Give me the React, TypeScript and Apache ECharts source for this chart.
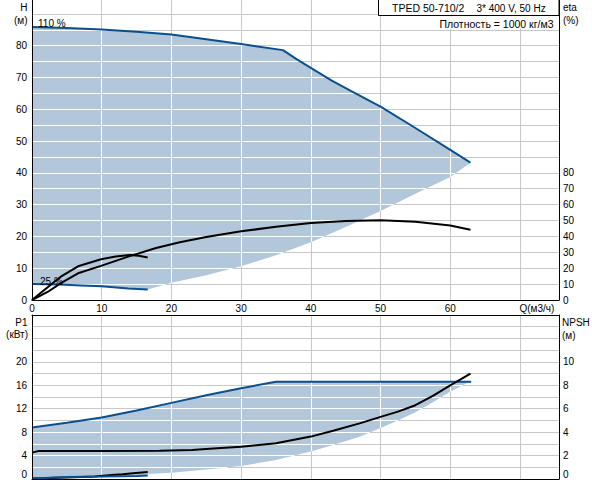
import React, { useEffect, useRef } from 'react';
import * as echarts from 'echarts';

// top chart: Q (м3/ч) against H (м) and eta (%)
const head110 = [[0, 85.9], [5, 85.6], [10, 85.1], [15, 84.4], [20, 83.5], [25, 82.0], [30, 80.5], [36, 78.6], [38, 75.7], [40, 73.0], [43, 69.0], [46, 65.5], [50, 60.8], [55, 54.1], [60, 47.2], [62.9, 43.2]];
const head25 = [[0, 5.0], [4, 4.9], [7, 4.6], [10, 4.3], [13.8, 3.6], [16.6, 3.3]];
const headMin = [[16.6, 3.3], [20, 5.4], [25, 7.8], [30, 10.6], [35, 14.1], [40, 18.2], [45, 23.0], [50, 28.0], [55, 33.4], [60, 38.7], [62.9, 43.2]];
const eta25 = [[0, 0], [1, 3.6], [2.3, 8.2], [4.2, 14.9], [6.6, 21.2], [9.9, 25.6], [12, 27.3], [14, 28.3], [15.3, 27.8], [16.6, 26.7]];
const etaFull = [[0, 0], [2.3, 5.2], [4.2, 10.8], [6.6, 16.8], [9.9, 21.5], [13.8, 27.3], [17.8, 32.7], [21.2, 36.3], [25, 39.6], [30, 43.2], [35, 46.1], [40, 48.4], [45, 49.7], [50, 50.1], [55, 49.2], [60, 46.9], [62.9, 44.2]];

// bottom chart: Q against P1 (кВт) and NPSH (м)
const p1_110 = [[0, 8.8], [5, 9.6], [10, 10.5], [15, 11.7], [20, 13.0], [25, 14.3], [30, 15.5], [35, 16.6], [63, 16.6]];
const p1_25 = [[0, 0.1], [5, 0.35], [10, 0.42], [15, 0.52], [16.6, 0.58]];
const p1Min = [[16.6, 0.58], [16.6, 0.85], [20, 1.05], [22, 1.3], [26.9, 1.83], [30, 2.2], [35, 3.24], [40, 4.7], [43.2, 5.8], [47, 7.2], [50, 8.7], [52.5, 10.0], [55, 11.4], [57.5, 13.1], [60, 14.9], [62.3, 16.3], [63, 16.6]];
const npshFull = [[0, 2.25], [1, 2.4], [10, 2.4], [18.3, 2.42], [23, 2.47], [26, 2.6], [30, 2.76], [35, 3.05], [40, 3.62], [43.2, 4.12], [47, 4.75], [50, 5.3], [52.5, 5.75], [55, 6.3], [57.5, 7.1], [60, 8.0], [62.9, 9.0]];
const npsh25 = [[0, 0.05], [5, 0.12], [9, 0.22], [11.4, 0.34], [13, 0.4], [14.5, 0.49], [16.6, 0.6]];

// grid line values (white where they cross the shaded range)
const qGrid = [10, 20, 30, 40, 50, 60, 70];
const hGrid = [5, 10, 15, 20, 25, 30, 35, 40, 45, 50, 55, 60, 65, 70, 75, 80, 85, 90];
const pGrid = [2, 4, 6, 8, 10, 12, 14, 16, 18, 20, 22, 24, 26];

const FONT = 'Liberation Sans, Arial, sans-serif';
const BLUE = '#0b4f8c';
const FILL = '#b3c7db';
const GREY = '#c8c8c8';

const snap = (p: number) => {
    const d = Math.round(p * 2);
    return d % 2 !== 0 ? d / 2 : (d + 1) / 2;
};

function crossings(pts: number[][], k: number, v: number) {
    const o = k === 0 ? 1 : 0;
    const out: number[] = [];
    for (let i = 0; i < pts.length; i++) {
        const a = pts[i];
        const b = pts[(i + 1) % pts.length];
        if ((a[k] <= v && b[k] > v) || (b[k] <= v && a[k] > v)) {
            const t = (v - a[k]) / (b[k] - a[k]);
            out.push(a[o] + t * (b[o] - a[o]));
        }
    }
    return out.sort((m, n) => m - n);
}

function envelope(poly: number[][], hVals: number[], vVals: number[]) {
    return (_params: any, api: any) => {
        const pts = poly.map((p) => api.coord(p));
        const children: any[] = [{ type: 'polygon', shape: { points: pts }, style: { fill: FILL } }];
        const white = { stroke: '#fff', lineWidth: 1 };
        hVals.forEach((h) => {
            const y = snap(api.coord([0, h])[1]);
            const xs = crossings(pts, 1, y);
            for (let i = 0; i + 1 < xs.length; i += 2) {
                children.push({ type: 'line', shape: { x1: xs[i], y1: y, x2: xs[i + 1], y2: y }, style: white });
            }
        });
        vVals.forEach((q) => {
            const x = snap(api.coord([q, 0])[0]);
            const ys = crossings(pts, 0, x);
            for (let i = 0; i + 1 < ys.length; i += 2) {
                children.push({ type: 'line', shape: { x1: x, y1: ys[i], x2: x, y2: ys[i + 1] }, style: white });
            }
        });
        return { type: 'group', children };
    };
}

const line = (data: number[][], xi: number, yi: number, color: string) => ({
    type: 'line',
    xAxisIndex: xi,
    yAxisIndex: yi,
    data,
    z: 3,
    showSymbol: false,
    silent: true,
    lineStyle: { color, width: 2 },
});

const label = (formatter: (v: number) => string, margin: number) => ({
    margin,
    fontSize: 10,
    fontFamily: FONT,
    color: '#000',
    formatter,
});

const black = { show: true, onZero: false, lineStyle: { color: '#000', width: 1 } };

const text = (t: string, x: number, y: number, align: string, size = 10) => ({
    type: 'text',
    x,
    y,
    z: 100,
    style: { text: t, fill: '#000', font: `${size}px ${FONT}`, align, textAlign: align, verticalAlign: 'middle', textVerticalAlign: 'middle' },
});

const App: React.FC = () => {
    const chartRef = useRef<HTMLDivElement>(null);

    useEffect(() => {
        if (!chartRef.current) return;
        const myChart = echarts.init(chartRef.current, null, { renderer: 'svg' });

        const topPoly = [...head110, ...headMin.slice().reverse(), ...head25.slice().reverse()];
        const botPoly = [...p1_110, ...p1Min.slice().reverse(), ...p1_25.slice().reverse()];
        const qLabel = (v: number) => (v % 10 === 0 && v <= 60 ? String(v) : '');

        const option = {
            animation: false,
            grid: [
                { left: 32, top: -2, width: 527, height: 302, containLabel: false, outerBoundsMode: 'none' },
                { left: 32, top: 315, width: 527, height: 164, containLabel: false, outerBoundsMode: 'none' },
            ],
            xAxis: [
                {
                    gridIndex: 0, type: 'value', min: 0, max: 75.6, interval: 10,
                    axisLine: black, axisTick: { show: false },
                    axisLabel: label(qLabel, 3),
                    splitLine: { show: true, lineStyle: { color: GREY } },
                },
                {
                    gridIndex: 1, type: 'value', position: 'bottom', min: 0, max: 75.6, interval: 10, z: 5,
                    axisLine: black, axisTick: { show: false }, axisLabel: { show: false }, splitLine: { show: false },
                },
                {
                    gridIndex: 1, type: 'value', position: 'top', min: 0, max: 75.6, interval: 10,
                    axisLine: black, axisTick: { show: false }, axisLabel: { show: false },
                    splitLine: { show: true, lineStyle: { color: GREY } },
                },
            ],
            yAxis: [
                {
                    gridIndex: 0, type: 'value', position: 'left', min: 0, max: 95, interval: 10, z: 5,
                    axisLine: black, axisTick: { show: false },
                    axisLabel: label((v) => (v % 10 === 0 && v <= 80 ? String(v) : ''), 5),
                    splitLine: { show: false },
                },
                {
                    gridIndex: 0, type: 'value', position: 'right', min: 0, max: 190, interval: 10,
                    axisLine: black, axisTick: { show: false },
                    axisLabel: label((v) => (v % 10 === 0 && v <= 80 ? String(v) : ''), 4),
                    splitLine: { show: true, lineStyle: { color: GREY } },
                },
                {
                    gridIndex: 1, type: 'value', position: 'left', min: 0, max: 28, interval: 4, z: 5,
                    axisLine: black, axisTick: { show: false },
                    axisLabel: { ...label((v) => (v % 4 === 0 && v <= 20 ? String(v) : ''), 5), verticalAlignMinLabel: 'bottom' },
                    splitLine: { show: false },
                },
                {
                    gridIndex: 1, type: 'value', position: 'right', min: 0, max: 14, interval: 1,
                    axisLine: black, axisTick: { show: false },
                    axisLabel: { ...label((v) => (v % 2 === 0 && v <= 10 ? String(v) : ''), 4), verticalAlignMinLabel: 'bottom' },
                    splitLine: { show: true, lineStyle: { color: GREY } },
                },
            ],
            graphic: [
                { type: 'rect', z: 99, shape: { x: 378.5, y: -1.5, width: 180.5, height: 17 }, style: { fill: '#fff', stroke: '#000', lineWidth: 1 } },
                text('TPED 50-710/2', 392, 8, 'left', 10.5),
                text('3* 400 V, 50 Hz', 476.5, 8, 'left', 10),
                { type: 'rect', z: 99, shape: { x: 431, y: 16.5, width: 127.5, height: 12 }, style: { fill: '#fff' } },
                text('Плотность = 1000 кг/м3', 553.5, 23.5, 'right', 10.5),
                text('H', 27.5, 7, 'right'),
                text('(м)', 27.5, 20.5, 'right'),
                text('eta', 563, 7, 'left'),
                text('(%)', 563, 20.5, 'left'),
                text('P1', 27.5, 322, 'right'),
                text('(кВт)', 28, 334.5, 'right'),
                text('NPSH', 562, 322, 'left'),
                text('(м)', 562, 335, 'left'),
                text('Q(м3/ч)', 519.5, 308, 'left'),
                text('110 %', 38, 23, 'left'),
                text('25 %', 40, 281, 'left'),
            ],
            series: [
                { type: 'custom', xAxisIndex: 0, yAxisIndex: 0, z: 1, silent: true, data: [[0, 0]], renderItem: envelope(topPoly, hGrid, qGrid) },
                { type: 'custom', xAxisIndex: 1, yAxisIndex: 2, z: 1, silent: true, data: [[0, 0]], renderItem: envelope(botPoly, pGrid, qGrid) },
                line(head110, 0, 0, BLUE),
                line(head25, 0, 0, BLUE),
                line(eta25, 0, 1, '#000'),
                line(etaFull, 0, 1, '#000'),
                line(npsh25, 1, 3, '#000'),
                line(p1_25, 1, 2, BLUE),
                line(p1_110, 1, 2, BLUE),
                line(npshFull, 1, 3, '#000'),
            ],
        };

        myChart.setOption(option as any);

        return () => {
            myChart.dispose();
        };
    }, []);

    return (
        <div ref={chartRef} style={{ position: 'absolute', left: 0, top: 0, width: '592px', height: '480px' }} />
    );
};

export default App;
